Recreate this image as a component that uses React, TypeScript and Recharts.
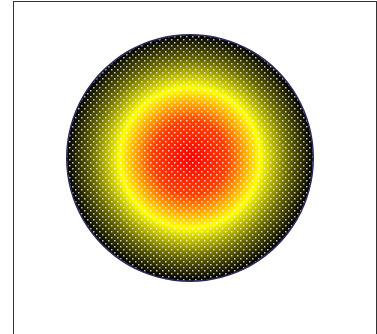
import React from "react";
import { PieChart, Pie, Cell } from "recharts";

const categories = ["A"];
const values = [100];

const data = categories.map((name, i) => ({ name, value: values[i] }));

export default function App() {
  return (
    <div
      style={{
        position: "absolute",
        left: 13,
        top: 1,
        width: 362,
        height: 360,
        border: "1px solid #333",
        background: "#fff",
      }}
    >
      <PieChart width={362} height={360} margin={{ top: 0, right: 0, bottom: 0, left: 0 }}>
        <defs>
          <radialGradient id="rg" cx="50%" cy="50%" r="50%">
            <stop offset="0%" stopColor="#ff0000" />
            <stop offset="30%" stopColor="#ff4000" />
            <stop offset="57%" stopColor="#ffff00" />
            <stop offset="80%" stopColor="#6a6a00" />
            <stop offset="100%" stopColor="#000000" />
          </radialGradient>
          <pattern id="dots" width="6" height="6" patternUnits="userSpaceOnUse">
            <rect x="1" y="1" width="1.5" height="1.5" fill="#ffffff" fillOpacity={0.75} />
            <rect x="4" y="4" width="1.5" height="1.5" fill="#ffffff" fillOpacity={0.75} />
          </pattern>
        </defs>
        <Pie
          data={data}
          dataKey="value"
          cx={176}
          cy={156}
          outerRadius={123}
          innerRadius={0}
          stroke="none"
          isAnimationActive={false}
        >
          {data.map((d) => (
            <Cell key={d.name} fill="url(#rg)" />
          ))}
        </Pie>
        <Pie
          data={data}
          dataKey="value"
          cx={176}
          cy={156}
          outerRadius={123}
          innerRadius={0}
          stroke="none"
          isAnimationActive={false}
        >
          {data.map((d) => (
            <Cell key={d.name} fill="url(#dots)" />
          ))}
        </Pie>
        <Pie
          data={data}
          dataKey="value"
          cx={176}
          cy={156}
          outerRadius={124}
          innerRadius={122.5}
          stroke="none"
          isAnimationActive={false}
        >
          {data.map((d) => (
            <Cell key={d.name} fill="#2a2a5a" />
          ))}
        </Pie>
      </PieChart>
    </div>
  );
}
